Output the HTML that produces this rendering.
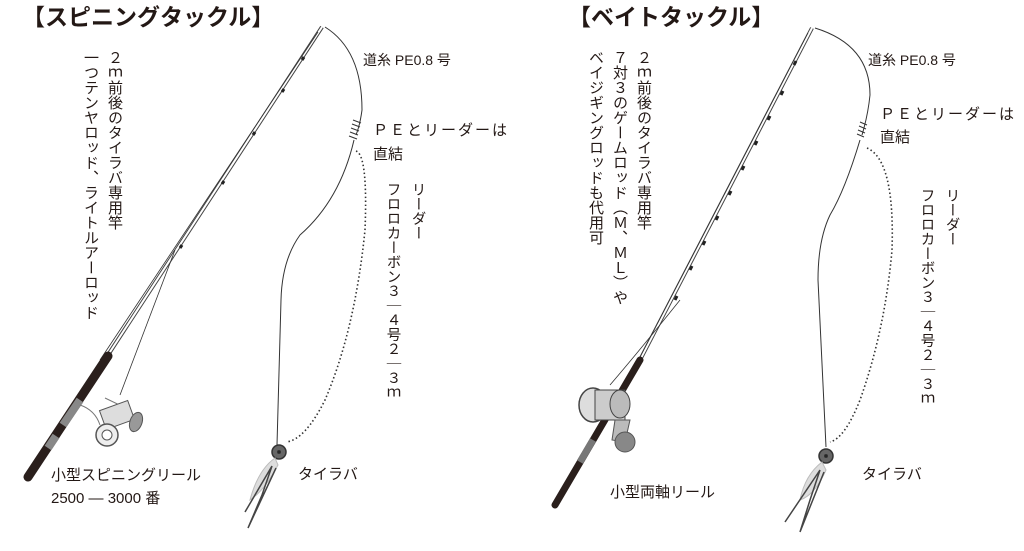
<!DOCTYPE html>
<html><head><meta charset="utf-8">
<style>
html,body{margin:0;padding:0;background:#fff;}
body{width:1024px;height:551px;position:relative;overflow:hidden;font-family:"Liberation Sans","Noto Sans CJK JP",sans-serif;color:#231815;}
.t{position:absolute;white-space:nowrap;font-size:15px;line-height:1;}
.v{position:absolute;writing-mode:vertical-rl;text-orientation:upright;font-family:"Noto Sans CJK JP",sans-serif;font-size:15px;line-height:1;white-space:nowrap;}
.h{position:absolute;font-size:23px;font-weight:bold;white-space:nowrap;line-height:1;font-family:"Noto Sans CJK JP",sans-serif;}
svg{position:absolute;left:0;top:0;}
</style></head><body>
<svg width="1024" height="551" viewBox="0 0 1024 551">
<g fill="none" stroke="#333">
<line x1="322" y1="27" x2="108" y2="355" stroke-width="4" stroke="#444"/>
<line x1="322" y1="27" x2="108" y2="355" stroke-width="2" stroke="#fff"/>
<line x1="318" y1="32" x2="100" y2="360" stroke-width="0.8"/>
<path d="M302 60 l2 -3 M282 92 l2 -3 M253 135 l2 -3 M222 184 l2 -3 M180 248 l2 -3" stroke-width="3" stroke="#222"/>
<line x1="175" y1="250" x2="120" y2="395" stroke-width="0.8"/>
<line x1="108" y1="356" x2="28" y2="477" stroke-width="9" stroke="#2a1f1c" stroke-linecap="round"/>
<line x1="80" y1="400" x2="63" y2="425" stroke-width="8" stroke="#888"/>
<line x1="56" y1="436" x2="48" y2="448" stroke-width="8" stroke="#888"/>
<path d="M80 405 Q95 410 100 425 M105 398 L130 410" stroke-width="1" stroke="#777"/>
<rect x="102" y="405" width="30" height="20" fill="#ddd" stroke="#555" transform="rotate(-20 117 415)"/>
<circle cx="107" cy="435" r="11" fill="#eee" stroke="#555" stroke-width="1.5"/>
<circle cx="107" cy="435" r="5" fill="#fff" stroke="#555"/>
<ellipse cx="136" cy="422" rx="6" ry="10" fill="#999" stroke="#555" transform="rotate(20 136 422)"/>
<path d="M325 27 Q362 50 362 110 Q360 125 356 135" stroke-width="1"/>
<path d="M353 120 l8 3 M352 124 l8 3 M351 128 l8 3 M350 132 l8 3 M349 136 l8 3" stroke-width="1"/>
<path d="M354 140 Q340 200 300 235 Q282 260 281 300 L277 445" stroke-width="1"/>
<path d="M356 151 Q368 155 365 230 Q355 330 325 400 Q305 440 286 442" stroke-width="1.6" stroke-dasharray="1.5 2.5"/>
<circle cx="279" cy="452" r="7" fill="#666" stroke="#333" stroke-width="1.5"/>
<circle cx="279" cy="452" r="1.5" fill="#222"/>
<path d="M275 458 Q258 470 250 500 Q265 490 278 465Z" fill="#ddd" stroke="#bbb"/>
<path d="M272 466 L245 512 M276 468 L248 528 M272 466 L262 495 L248 528" stroke-width="1.5" stroke="#444"/>
<line x1="812" y1="28" x2="640" y2="360" stroke-width="4" stroke="#444"/>
<line x1="812" y1="28" x2="640" y2="360" stroke-width="2" stroke="#fff"/>
<line x1="808" y1="33" x2="636" y2="365" stroke-width="0.8"/>
<path d="M675 300 l2 -4 M690 270 l2 -4 M703 245 l2 -4 M716 220 l2 -4 M729 195 l2 -4 M742 170 l2 -4 M755 145 l2 -4 M768 120 l2 -4 M781 95 l2 -4 M794 65 l2 -4" stroke-width="3" stroke="#222"/>
<path d="M680 300 Q640 350 610 385" stroke-width="0.8"/>
<line x1="640" y1="360" x2="555" y2="505" stroke-width="7" stroke="#2a1f1c" stroke-linecap="round"/>
<line x1="593" y1="440" x2="580" y2="462" stroke-width="7" stroke="#777"/>
<ellipse cx="593" cy="405" rx="14" ry="17" fill="#ddd" stroke="#444" stroke-width="1.5"/>
<rect x="595" y="390" width="30" height="30" fill="#ccc" stroke="#444"/>
<ellipse cx="620" cy="404" rx="10" ry="14" fill="#bbb" stroke="#444"/>
<path d="M615 420 L612 440 L625 442 L630 420Z" fill="#bbb" stroke="#555"/>
<circle cx="625" cy="442" r="10" fill="#888" stroke="#555"/>
<path d="M815 28 Q870 45 870 95 Q868 115 862 135" stroke-width="1"/>
<path d="M860 122 l7 3 M859 126 l7 3 M858 130 l7 3 M857 134 l7 3" stroke-width="1"/>
<path d="M860 140 Q845 190 830 215 Q818 240 818 280 L826 447" stroke-width="1"/>
<path d="M867 148 Q895 160 892 250 Q885 330 860 400 Q845 438 830 442" stroke-width="1.6" stroke-dasharray="1.5 2.5"/>
<circle cx="826" cy="456" r="7" fill="#666" stroke="#333" stroke-width="1.5"/>
<circle cx="826" cy="456" r="1.5" fill="#222"/>
<path d="M822 462 Q805 475 800 500 Q815 495 826 470Z" fill="#ddd" stroke="#bbb"/>
<path d="M820 470 L785 522 M824 472 L800 532 M820 470 L810 500 L800 532" stroke-width="1.5" stroke="#444"/>
</g>
</svg>
<div class="h" style="left:22px;top:4px;">【スピニングタックル】</div>
<div class="h" style="left:568px;top:4px;">【ベイトタックル】</div>
<div class="v" style="left:108px;top:50px;">２ｍ前後のタイラバ専用竿</div>
<div class="v" style="left:84px;top:50px;">一つテンヤロッド、ライトルアーロッド</div>
<div class="t" style="left:363px;top:53px;font-size:14px;">道糸 PE0.8 号</div>
<div class="t" style="left:373px;top:123px;letter-spacing:2px;">ＰＥとリーダーは</div>
<div class="t" style="left:373px;top:147px;">直結</div>
<div class="v" style="left:411px;top:182px;font-size:14.5px;">リーダー</div>
<div class="v" style="left:386px;top:182px;font-size:14.5px;">フロロカーボン３｜４号２｜３ｍ</div>
<div class="t" style="left:51px;top:468px;">小型スピニングリール</div>
<div class="t" style="left:51px;top:491px;font-size:15px;">2500 ― 3000 番</div>
<div class="t" style="left:298px;top:467px;">タイラバ</div>
<div class="v" style="left:637px;top:50px;">２ｍ前後のタイラバ専用竿</div>
<div class="v" style="left:613px;top:50px;">７対３のゲームロッド（Ｍ、ＭＬ）や</div>
<div class="v" style="left:589px;top:50px;">ベイジギングロッドも代用可</div>
<div class="t" style="left:868px;top:53px;font-size:14px;">道糸 PE0.8 号</div>
<div class="t" style="left:880px;top:107px;letter-spacing:2px;">ＰＥとリーダーは</div>
<div class="t" style="left:880px;top:130px;">直結</div>
<div class="v" style="left:945px;top:188px;font-size:14.5px;">リーダー</div>
<div class="v" style="left:920px;top:188px;font-size:14.5px;">フロロカーボン３｜４号２｜３ｍ</div>
<div class="t" style="left:610px;top:485px;">小型両軸リール</div>
<div class="t" style="left:862px;top:467px;">タイラバ</div>
</body></html>
